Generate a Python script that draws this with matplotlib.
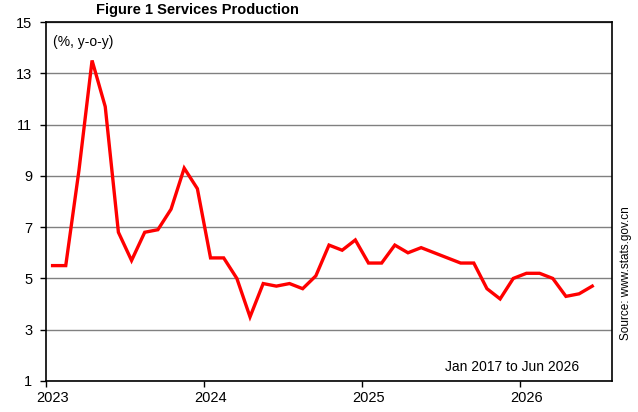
import matplotlib
matplotlib.use("Agg")
import matplotlib.pyplot as plt
import numpy as np

plt.rcParams['font.family'] = ['Liberation Sans', 'DejaVu Sans']

years = ["2023", "2024", "2025", "2026"]
values = [5.5, 5.5, 9.2, 13.5, 11.7, 6.8, 5.7, 6.8, 6.9, 7.7, 9.3, 8.5,
          5.8, 5.8, 5.0, 3.5, 4.8, 4.7, 4.8, 4.6, 5.1, 6.3, 6.1, 6.5,
          5.6, 5.6, 6.3, 6.0, 6.2, 6.0, 5.8, 5.6, 5.6, 4.6, 4.2, 5.0,
          5.2, 5.2, 5.0, 4.3, 4.4, 4.7]
n_categories = 43
yticks = [1, 3, 5, 7, 9, 11, 13, 15]

fig = plt.figure(figsize=(6.38, 4.12), dpi=100)
ax = fig.add_axes([46/638, 1-381/412, 566/638, 359/412])

x = np.arange(len(values))
ax.plot(x, values, color='#ff0000', lw=2.4, solid_joinstyle='miter', zorder=3)

ax.set_xlim(-0.5, n_categories - 0.5)
ax.set_ylim(1, 15)
ax.set_yticks(yticks)
ax.set_yticklabels([str(v) for v in yticks], fontsize=10.5)
ax.yaxis.grid(True, color='#808080', lw=1)
ax.set_axisbelow(True)

ax.set_xticks([12 * k for k in range(len(years))])
ax.set_xticklabels(years, fontsize=10.5)
ax.tick_params(axis='x', which='major', length=0, pad=7)
ax.set_xticks([12 * k - 0.5 for k in range(len(years))], minor=True)
ax.tick_params(axis='x', which='minor', length=4, width=1, color='black', direction='out')
ax.tick_params(axis='y', length=4, width=1, direction='out', pad=6)

for s in ax.spines.values():
    s.set_color('black')
    s.set_linewidth(1.2)

fig.text(197/638, 1-10/412, "Figure 1 Services Production", fontsize=10.5,
         fontweight='bold', ha='center', va='center')
fig.text(53/638, 1-42/412, "(%, y-o-y)", fontsize=10, ha='left', va='center')
fig.text(579/638, 1-367/412, "Jan 2017 to Jun 2026", fontsize=10, ha='right',
         va='center')
fig.text(626/638, 1-273/412, "Source: www.stats.gov.cn", fontsize=8.5,
         rotation=90, ha='center', va='center')

fig.savefig("out.png", dpi=100)
